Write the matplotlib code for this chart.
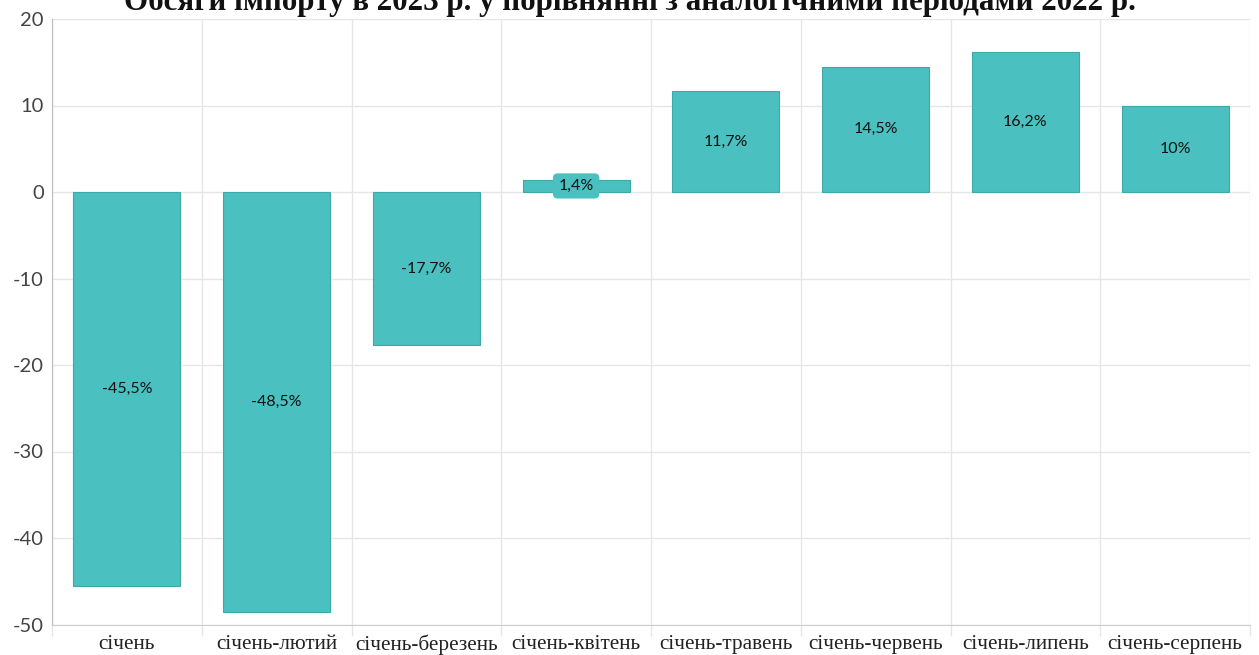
import matplotlib
matplotlib.use('Agg')
import matplotlib.pyplot as plt
import numpy as np

title = 'Обсяги імпорту в 2023 р. у порівнянні з аналогічними періодами 2022 р.'
periods = ['січень', 'січень-лютий', 'січень-березень', 'січень-квітень',
           'січень-травень', 'січень-червень', 'січень-липень', 'січень-серпень']
values = [-45.5, -48.5, -17.7, 1.4, 11.7, 14.5, 16.2, 10.0]
labels = ['-45,5%', '-48,5%', '-17,7%', '1,4%', '11,7%', '14,5%', '16,2%', '10%']

bar_color = '#4bc0c0'
grid_color = '#e6e6e6'

fig = plt.figure(figsize=(12.59, 6.55), dpi=100)
ax = fig.add_axes([52/1259, 1 - 624.5/655, (1250 - 52)/1259, (624.5 - 19)/655])

x = np.arange(len(periods))
bars = ax.bar(x, values, width=0.715, color=bar_color, edgecolor='#3fa9a9',
              linewidth=0.8, zorder=3)

for i, b in enumerate(bars):
    yc = values[i] / 2
    if abs(values[i]) < 3:
        # small bar: label sits in a rounded box
        ax.text(x[i], yc, labels[i], ha='center', va='center', fontsize=11.5,
                family='Lato', color='#111111', zorder=5,
                bbox=dict(boxstyle='round,pad=0.35,rounding_size=0.3',
                          fc=bar_color, ec='none'))
    else:
        ax.text(x[i], yc, labels[i], ha='center', va='center', fontsize=11.5,
                family='Lato', color='#111111', zorder=5)

ax.set_xlim(-0.5, len(periods) - 0.5)
ax.set_ylim(-50, 20)
ax.set_yticks(np.arange(-50, 21, 10))
ax.set_yticklabels([str(v) for v in range(-50, 21, 10)], family='Lato',
                   fontsize=14.5, color='#444444')
ax.tick_params(axis='y', length=0, pad=6)

# category separators (minor ticks extend below axis)
ax.set_xticks(x)
ax.set_xticklabels(periods, family='Liberation Serif', fontsize=15.3, color='#222222')
ax.tick_params(axis='x', length=0, pad=7.5)
ax.set_xticks(np.arange(-0.5, len(periods) + 0.5, 1), minor=True)
ax.tick_params(axis='x', which='minor', length=8, color=grid_color, width=1)

ax.grid(axis='y', color=grid_color, linewidth=1, zorder=0)
ax.grid(axis='x', which='minor', color=grid_color, linewidth=1, zorder=0)
ax.grid(axis='x', which='major', visible=False)

for s in ['top', 'right']:
    ax.spines[s].set_visible(False)
ax.spines['left'].set_color('#bbbbbb')
ax.spines['bottom'].set_color('#cccccc')

fig.text(0.5, 1 - 10/655, title, ha='center', va='baseline',
         family='Liberation Serif', fontweight='bold', fontsize=22.3, color='#111111')

fig.savefig('out.png', dpi=100)
